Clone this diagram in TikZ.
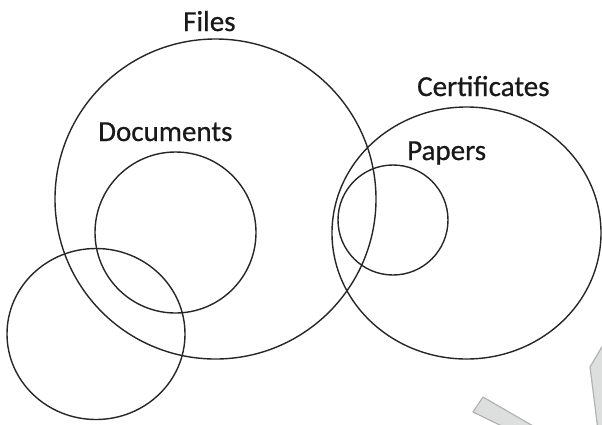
\documentclass[tikz,border=0pt]{standalone}
\usepackage{fontspec}
\setmainfont{Carlito}[FakeBold=0.7]
\begin{document}
\begin{tikzpicture}[x=1pt,y=-1pt,
  ring/.style={draw=black!85, line width=1.4pt},
  lbl/.style={anchor=base west, inner sep=0pt, font=\fontsize{29}{29}\selectfont, text=black!90},
  wmark/.style={fill=teal!8!gray!25, draw=gray!60, line width=1.2pt, line join=round}]
\useasboundingbox (0,0) rectangle (602,424);
\begin{scope}
\clip (0,0) rectangle (602,424);
\path[wmark] (473,412) -- (483,397) -- (540,430) -- (510,430) -- cycle;
\path[wmark] (590,367) -- (603,345) -- (610,430) -- (598,430) -- cycle;
\end{scope}
\draw[ring] (215.5,199) ellipse [x radius=160.5, y radius=160];
\draw[ring] (175.5,232.5) ellipse [x radius=80.5, y radius=80.5];
\draw[ring] (96,334) ellipse [x radius=89, y radius=85.5];
\draw[ring] (466.5,233) ellipse [x radius=134.5, y radius=126];
\draw[ring] (393,220) ellipse [x radius=55, y radius=55];
\node[lbl] (files) at (183,31) {Files};
\node[lbl] (docs) at (98,141) {Documents};
\node[lbl] (cert) at (417,96) {Certificates};
\node[lbl] (papers) at (407,160) {Papers};
\end{tikzpicture}
\end{document}
